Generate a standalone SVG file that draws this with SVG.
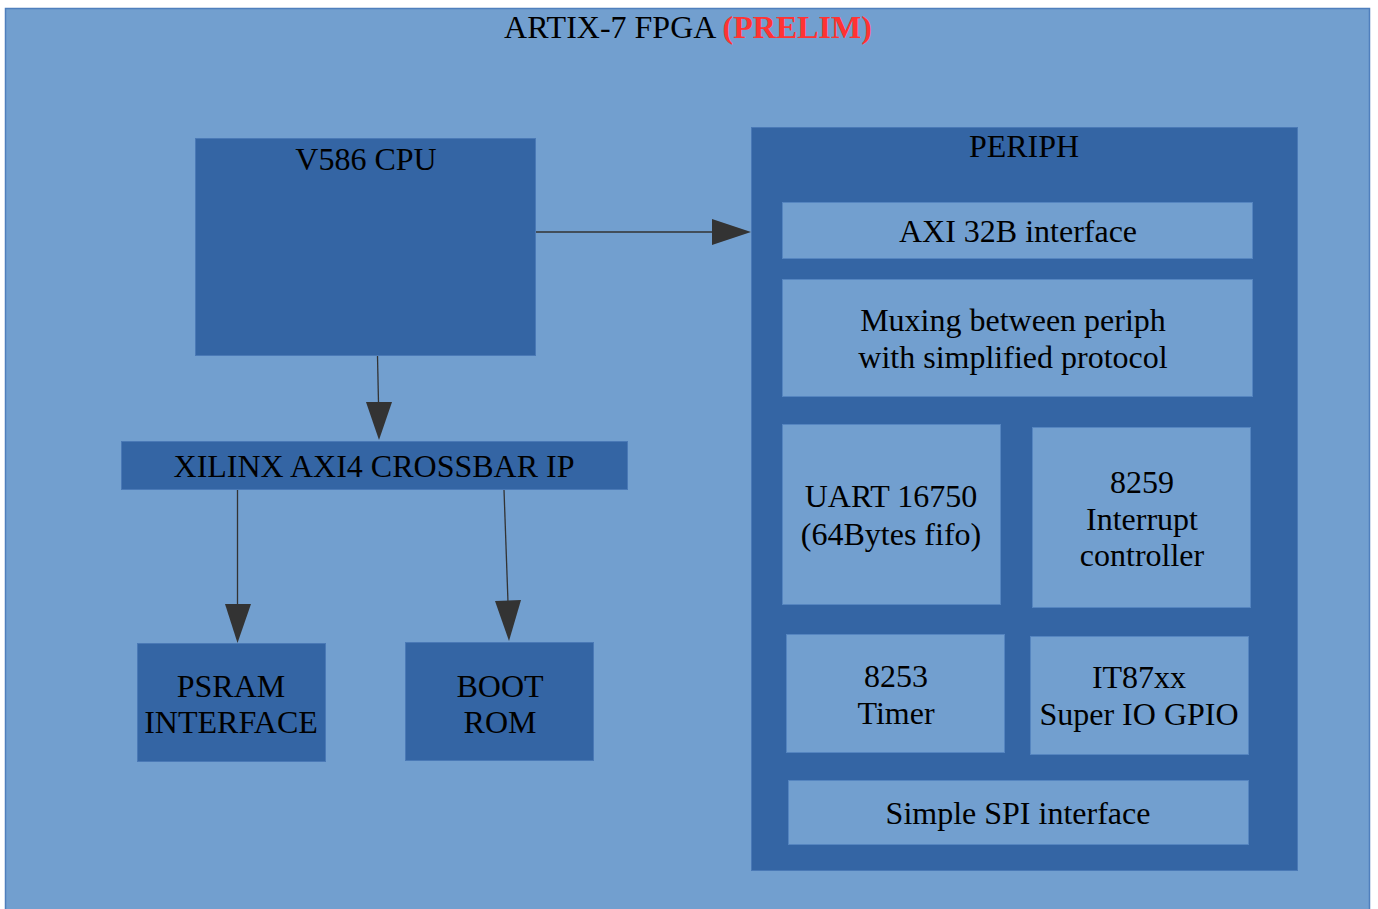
<svg xmlns="http://www.w3.org/2000/svg" width="1378" height="909" viewBox="0 0 1378 909">
<style>
.bg{fill:#729fcf;stroke:#4f7fbd;stroke-width:1.5}
.dk{fill:#3465a4;stroke:#4a79b6;stroke-width:1}
.lt{fill:#729fcf;stroke:#5585c0;stroke-width:1}
text{font-family:"Liberation Serif","Times New Roman",serif;font-size:32px;fill:#000;text-anchor:middle}
.red{fill:#ff3333;font-weight:bold}
.con{stroke:#333333;stroke-width:1.3;fill:none}
.head{fill:#333333}
</style>
<rect width="1378" height="909" fill="#ffffff"/>
<g id="fpga">
<rect class="bg" x="5.5" y="8.5" width="1364" height="905"/>
<text x="688" y="38">ARTIX-7 FPGA <tspan class="red">(PRELIM)</tspan></text>
</g>
<g id="cpu">
<rect class="dk" x="195.5" y="138.5" width="340" height="217"/>
<text x="366" y="170">V586 CPU</text>
</g>
<g id="xbar">
<rect class="dk" x="121.5" y="441.5" width="506" height="48"/>
<text x="374" y="477">XILINX AXI4 CROSSBAR IP</text>
</g>
<g id="psram">
<rect class="dk" x="137.5" y="643.5" width="188" height="118"/>
<text x="231" y="697">PSRAM</text>
<text x="231" y="733">INTERFACE</text>
</g>
<g id="bootrom">
<rect class="dk" x="405.5" y="642.5" width="188" height="118"/>
<text x="500" y="697">BOOT</text>
<text x="500" y="733">ROM</text>
</g>
<g id="periph">
<rect class="dk" x="751.5" y="127.5" width="546" height="743"/>
<text x="1024" y="157">PERIPH</text>
</g>
<g id="axi32">
<rect class="lt" x="782.5" y="202.5" width="470" height="56"/>
<text x="1018" y="242">AXI 32B interface</text>
</g>
<g id="mux">
<rect class="lt" x="782.5" y="279.5" width="470" height="117"/>
<text x="1013" y="331">Muxing between periph</text>
<text x="1013" y="368">with simplified protocol</text>
</g>
<g id="uart">
<rect class="lt" x="782.5" y="424.5" width="218" height="180"/>
<text x="891" y="507">UART 16750</text>
<text x="891" y="545">(64Bytes fifo)</text>
</g>
<g id="pic8259">
<rect class="lt" x="1032.5" y="427.5" width="218" height="180"/>
<text x="1142" y="493">8259</text>
<text x="1142" y="530">Interrupt</text>
<text x="1142" y="566">controller</text>
</g>
<g id="timer8253">
<rect class="lt" x="786.5" y="634.5" width="218" height="118"/>
<text x="896" y="687">8253</text>
<text x="896" y="724">Timer</text>
</g>
<g id="it87xx">
<rect class="lt" x="1030.5" y="636.5" width="218" height="118"/>
<text x="1139" y="688">IT87xx</text>
<text x="1139" y="725">Super IO GPIO</text>
</g>
<g id="spi">
<rect class="lt" x="788.5" y="780.5" width="460" height="64"/>
<text x="1018" y="824">Simple SPI interface</text>
</g>
<g id="connectors">
<line class="con" x1="536" y1="232" x2="713" y2="232"/>
<polygon class="head" points="712,219 751,232 712,245"/>
<line class="con" x1="377.5" y1="356" x2="378.5" y2="403"/>
<polygon class="head" points="366,402 392,402 379,440"/>
<line class="con" x1="237.5" y1="490" x2="237.5" y2="605"/>
<polygon class="head" points="225,604 251,604 237.5,643"/>
<line class="con" x1="504" y1="490" x2="508" y2="602"/>
<polygon class="head" points="495,601 521,600 509,641"/>
</g>
</svg>
